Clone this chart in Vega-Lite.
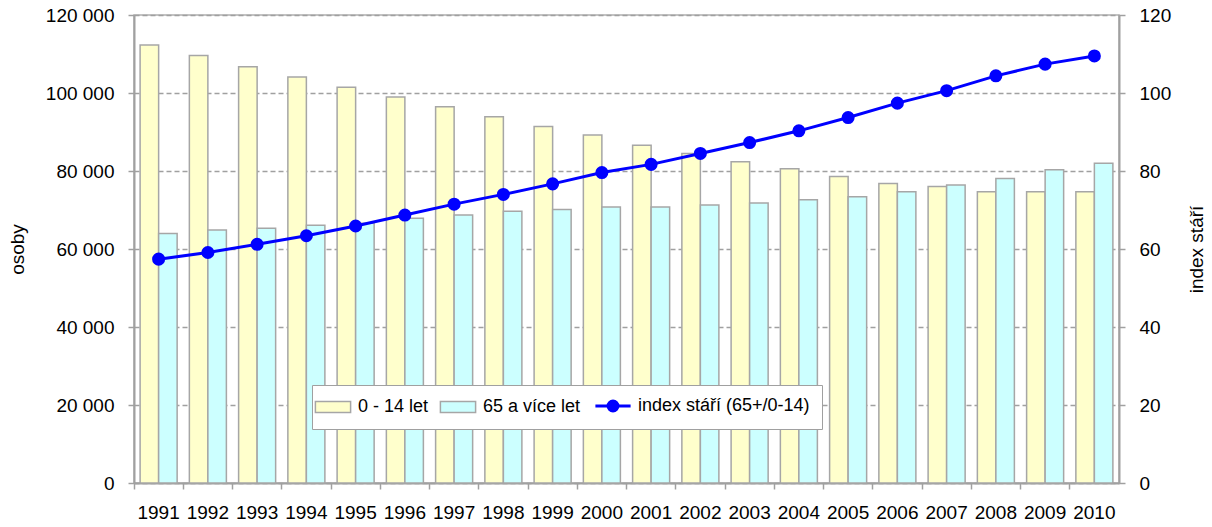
{
  "$schema": "https://vega.github.io/schema/vega-lite/v6.json",
  "width": 985,
  "height": 468,
  "autosize": {"type": "none"},
  "padding": {"left": 134, "top": 15, "right": 93, "bottom": 44},
  "background": "white",
  "config": {
    "view": {"stroke": "#B0B0B0", "strokeWidth": 1.5},
    "font": "Liberation Sans",
    "axis": {
      "labelFont": "Liberation Sans",
      "labelFontSize": 19,
      "labelColor": "#000000",
      "titleFont": "Liberation Sans",
      "titleFontSize": 19,
      "titleFontWeight": "normal",
      "titleColor": "#000000",
      "domainColor": "#A0A0A0",
      "domainWidth": 2,
      "tickColor": "#A0A0A0",
      "tickWidth": 1.5,
      "tickSize": 6
    },
    "legend": {
      "labelFont": "Liberation Sans",
      "labelFontSize": 18,
      "labelColor": "#000000"
    }
  },
  "data": {
    "values": [
      {"year": "1991", "young": 112300, "old": 64000, "index": 57.4},
      {"year": "1992", "young": 109600, "old": 64900, "index": 59.1},
      {"year": "1993", "young": 106700, "old": 65300, "index": 61.2},
      {"year": "1994", "young": 104100, "old": 66100, "index": 63.4},
      {"year": "1995", "young": 101500, "old": 66600, "index": 65.9},
      {"year": "1996", "young": 99000, "old": 67900, "index": 68.7},
      {"year": "1997", "young": 96500, "old": 68700, "index": 71.5},
      {"year": "1998", "young": 93900, "old": 69700, "index": 74.0},
      {"year": "1999", "young": 91400, "old": 70100, "index": 76.7},
      {"year": "2000", "young": 89200, "old": 70800, "index": 79.6},
      {"year": "2001", "young": 86600, "old": 70800, "index": 81.7},
      {"year": "2002", "young": 84500, "old": 71300, "index": 84.5},
      {"year": "2003", "young": 82400, "old": 71800, "index": 87.3},
      {"year": "2004", "young": 80600, "old": 72600, "index": 90.3},
      {"year": "2005", "young": 78600, "old": 73400, "index": 93.7},
      {"year": "2006", "young": 76800, "old": 74700, "index": 97.4},
      {"year": "2007", "young": 76000, "old": 76400, "index": 100.6},
      {"year": "2008", "young": 74700, "old": 78100, "index": 104.4},
      {"year": "2009", "young": 74700, "old": 80300, "index": 107.4},
      {"year": "2010", "young": 74700, "old": 82000, "index": 109.5}
    ]
  },
  "encoding": {
    "x": {
      "field": "year",
      "type": "nominal",
      "scale": {"paddingInner": 0, "paddingOuter": 0},
      "axis": {
        "title": null,
        "labelAngle": 0,
        "bandPosition": 0,
        "labelPadding": 14,
        "grid": false
      }
    }
  },
  "layer": [
    {
      "transform": [
        {"fold": ["young", "old"], "as": ["grp", "val"]},
        {"calculate": "datum.grp === 'young' ? '0 - 14 let' : '65 a více let'", "as": "series"}
      ],
      "mark": {"type": "bar", "stroke": "#A6A6A6", "strokeWidth": 1.5},
      "encoding": {
        "xOffset": {
          "field": "series",
          "type": "nominal",
          "sort": ["0 - 14 let", "65 a více let"],
          "scale": {"paddingInner": 0, "paddingOuter": 0.33}
        },
        "y": {
          "field": "val",
          "type": "quantitative",
          "scale": {"domain": [0, 120000], "nice": false},
          "axis": {
            "title": "osoby",
            "orient": "left",
            "values": [0, 20000, 40000, 60000, 80000, 100000, 120000],
            "labelExpr": "replace(format(datum.value, ','), ',', ' ')",
            "labelPadding": 14,
            "titlePadding": 18,
            "grid": true,
            "gridColor": "#A0A0A0",
            "gridDash": [5, 3],
            "gridWidth": 1.5
          }
        },
        "color": {
          "field": "series",
          "type": "nominal",
          "scale": {
            "domain": ["0 - 14 let", "65 a více let", "index stáří (65+/0-14)"],
            "range": ["#FFFFCC", "#CCFFFF", "#0000FF"]
          },
          "legend": {
            "title": null,
            "orient": "none",
            "legendX": 178,
            "legendY": 370,
            "direction": "horizontal",
            "fillColor": "white",
            "strokeColor": "#A0A0A0",
            "padding": 12,
            "symbolSize": 484,
            "symbolType": {"expr": "datum.label === 'index stáří (65+/0-14)' ? 'M-1.6,0H1.6M-0.45,0A0.45,0.45 0 1,1 0.45,0A0.45,0.45 0 1,1 -0.45,0Z' : 'M-1.6,-0.5H1.6V0.5H-1.6Z'"},
            "symbolStrokeColor": {"expr": "datum.label === 'index stáří (65+/0-14)' ? '#0000FF' : '#A6A6A6'"},
            "symbolStrokeWidth": {"expr": "datum.label === 'index stáří (65+/0-14)' ? 3 : 1.5"},
            "columnPadding": 8,
            "labelOffset": 16,
            "labelLimit": 400
          }
        }
      }
    },
    {
      "mark": {"type": "line", "color": "#0000FF", "strokeWidth": 3, "point": {"filled": true, "size": 170, "color": "#0000FF"}},
      "encoding": {
        "y": {
          "field": "index",
          "type": "quantitative",
          "scale": {"domain": [0, 120], "nice": false},
          "axis": {
            "title": "index stáří",
            "orient": "right",
            "values": [0, 20, 40, 60, 80, 100, 120],
            "labelPadding": 14,
            "titlePadding": 36,
            "titleAngle": 270,
            "grid": false
          }
        }
      }
    }
  ],
  "resolve": {"scale": {"y": "independent"}}
}
